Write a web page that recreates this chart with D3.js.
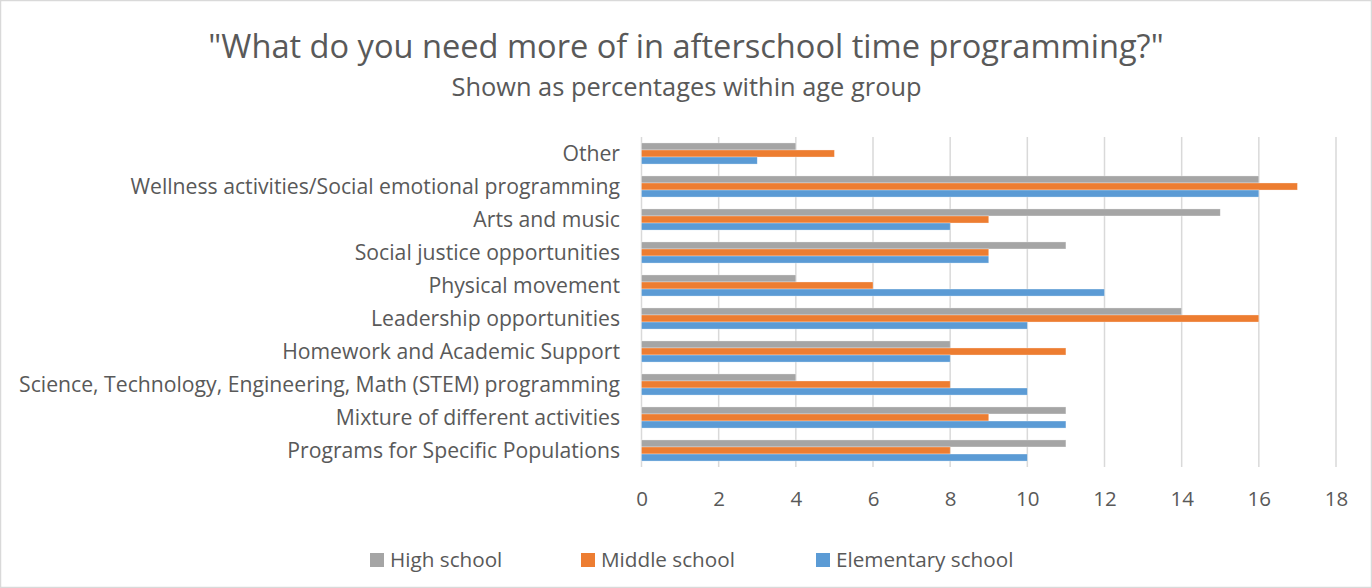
<!DOCTYPE html>
<html>
<head>
<meta charset="utf-8">
<script src="https://cdn.jsdelivr.net/npm/d3@7"></script>
<style>
  html, body { margin: 0; padding: 0; background: #fff; }
  svg { display: block; font-family: "Open Sans", "Noto Sans", sans-serif; }
</style>
</head>
<body>
<svg id="chart" width="1372" height="588"></svg>
<script>
// Categories, top to bottom
const categories = [
  "Other",
  "Wellness activities/Social emotional programming",
  "Arts and music",
  "Social justice opportunities",
  "Physical movement",
  "Leadership opportunities",
  "Homework and Academic Support",
  "Science, Technology, Engineering, Math (STEM) programming",
  "Mixture of different activities",
  "Programs for Specific Populations"
];
const seriesNames = ["High school", "Middle school", "Elementary school"];
const highSchool       = [4, 16, 15, 11, 4, 14, 8, 4, 11, 11];
const middleSchool     = [5, 17, 9, 9, 6, 16, 11, 8, 9, 8];
const elementarySchool = [3, 16, 8, 9, 12, 10, 8, 10, 11, 10];
const xTicks = [0, 2, 4, 6, 8, 10, 12, 14, 16, 18];
const colors = ["#a5a5a5", "#ed7d31", "#5b9bd5"];

const seriesValues = [highSchool, middleSchool, elementarySchool];
const rows = categories.map((c, i) => ({
  category: c,
  values: seriesNames.map((s, j) => ({ series: s, value: seriesValues[j][i] }))
}));

const W = 1372, H = 588;
const FONT = "\"Open Sans\", \"Noto Sans\", sans-serif";
const TEXT = "#595959";
const svg = d3.select("#chart");

// outer frame
svg.append("rect")
  .attr("x", 0.5).attr("y", 0.5)
  .attr("width", W - 1).attr("height", H - 1)
  .attr("fill", "#fff").attr("stroke", "#d9d9d9").attr("stroke-width", 1.5);

const plot = { left: 641.5, right: 1336, top: 137, bottom: 467 };

const x = d3.scaleLinear().domain([0, 18]).range([plot.left, plot.right]);
const y = d3.scaleBand().domain(categories).range([plot.top, plot.bottom]).paddingInner(0.36).paddingOuter(0.18);
const ySub = d3.scaleBand().domain(seriesNames).range([0, y.bandwidth()]);

// titles
svg.append("text")
  .attr("x", 686).attr("y", 58)
  .attr("text-anchor", "middle")
  .attr("font-size", 32.6).attr("fill", TEXT)
  .text('"What do you need more of in afterschool time programming?"');
svg.append("text")
  .attr("x", 686.5).attr("y", 96)
  .attr("text-anchor", "middle")
  .attr("font-size", 25.4).attr("fill", TEXT)
  .text("Shown as percentages within age group");

// vertical gridlines
svg.append("g")
  .selectAll("line")
  .data(xTicks)
  .join("line")
  .attr("x1", d => x(d)).attr("x2", d => x(d))
  .attr("y1", plot.top).attr("y2", plot.bottom)
  .attr("stroke", "#d9d9d9").attr("stroke-width", 1.5);

// bars
const groups = svg.append("g")
  .selectAll("g")
  .data(rows)
  .join("g")
  .attr("transform", d => `translate(0,${y(d.category)})`);

groups.selectAll("rect")
  .data(d => d.values)
  .join("rect")
  .attr("x", x(0))
  .attr("y", d => ySub(d.series))
  .attr("width", d => x(d.value) - x(0))
  .attr("height", ySub.bandwidth())
  .attr("fill", (d, i) => colors[i])
  .attr("stroke", "#fff").attr("stroke-opacity", 0.5).attr("stroke-width", 0.6);

// x axis labels
const xAxis = d3.axisBottom(x).tickValues(xTicks).tickSize(0).tickPadding(0);
const gx = svg.append("g")
  .attr("transform", `translate(0,${plot.bottom})`)
  .call(xAxis);
gx.select(".domain").remove();
gx.selectAll("text")
  .attr("dy", 0).attr("y", 39)
  .attr("font-family", FONT)
  .attr("font-size", 20.5).attr("fill", TEXT);

// category labels
const yAxis = d3.axisLeft(y).tickSize(0).tickPadding(0);
const gy = svg.append("g")
  .attr("transform", `translate(620,0)`)
  .call(yAxis);
gy.select(".domain").remove();
gy.selectAll("text")
  .attr("dy", "0.35em")
  .attr("font-family", FONT)
  .attr("font-size", 21.2).attr("fill", TEXT);

// legend
const legendX = [370, 581, 816];
const legend = svg.append("g")
  .selectAll("g")
  .data(seriesNames)
  .join("g")
  .attr("transform", (d, i) => `translate(${legendX[i]},553)`);
legend.append("rect")
  .attr("width", 14).attr("height", 14)
  .attr("fill", (d, i) => colors[i]);
legend.append("text")
  .attr("x", 20).attr("y", 7).attr("dy", "0.35em")
  .attr("font-size", 20.7).attr("fill", TEXT)
  .text(d => d);
</script>
</body>
</html>
